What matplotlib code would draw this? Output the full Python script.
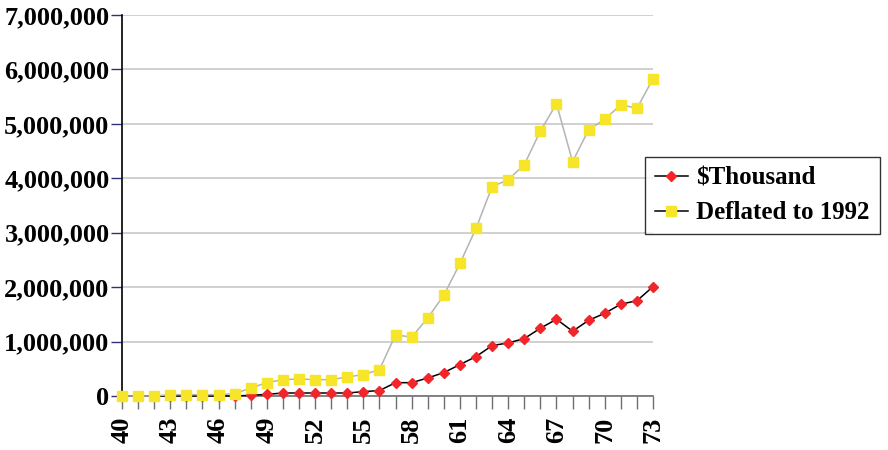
import matplotlib
matplotlib.use("Agg")
from matplotlib import pyplot as plt
from matplotlib.lines import Line2D
from matplotlib.ticker import FuncFormatter
import numpy as np

years = list(range(40, 74))
thousand = [0, 0, 0, 0, 0, 0, 0, 0, 12000, 30000, 55000, 55000, 55000, 55000,
            55000, 80000, 100000, 245000, 245000, 331000, 430000, 577000,
            724000, 926000, 975000, 1055000, 1245000, 1410000, 1190000,
            1390000, 1520000, 1687000, 1750000, 2010000]
deflated = [0, 0, 0, 25000, 25000, 25000, 25000, 43000, 147000, 245000,
            300000, 313000, 300000, 300000, 350000, 393000, 485000, 1125000,
            1080000, 1435000, 1850000, 2435000, 3080000, 3846000, 3974000,
            4250000, 4868000, 5370000, 4305000, 4893000, 5083000, 5352000,
            5285000, 5830000]
tick_years = list(range(40, 74, 3))

red = "#f0262a"
yellow = "#f7e52a"
family = "Liberation Serif"

fig = plt.figure(figsize=(8.88, 4.5), dpi=100)
ax = fig.add_axes([0.1374, 0.12, 0.598, 0.8467])

ax.plot(years, thousand, color="black", lw=1.1, marker="D", ms=5,
        mfc=red, mec=red, clip_on=False, zorder=3)
ax.plot(years, deflated, color="#b4b4b4", lw=1.1, marker="s", ms=7.5,
        mfc=yellow, mec=yellow, clip_on=False, zorder=4)

ax.set_xlim(40, 73)
ax.set_ylim(0, 7000000)
ax.set_yticks(np.arange(0, 7000001, 1000000))
ax.yaxis.set_major_formatter(FuncFormatter(lambda v, p: f"{int(v):,}"))
ax.set_xticks(years)
ax.set_xticklabels([str(y) if y in tick_years else "" for y in years],
                   rotation=90)
ax.grid(axis="y", color="#c4c4c4", lw=1.1)
ax.set_axisbelow(True)

for s in ["top", "right"]:
    ax.spines[s].set_visible(False)
ax.spines["left"].set_color("black")
ax.spines["left"].set_linewidth(1.2)
ax.spines["bottom"].set_color("#707070")
ax.spines["bottom"].set_linewidth(1.2)

ax.tick_params(axis="y", length=8, width=1, color="#30307a", pad=1)
ax.tick_params(axis="x", length=9, width=1, color="#707070", pad=6)
for lab in ax.get_xticklabels() + ax.get_yticklabels():
    lab.set_fontfamily(family)
    lab.set_fontweight("bold")
    lab.set_fontsize(19)

handles = [
    Line2D([], [], color="black", lw=1.1, marker="D", ms=5, mfc=red, mec=red),
    Line2D([], [], color="black", lw=1.1, marker="s", ms=7, mfc=yellow,
           mec=yellow),
]
leg = fig.legend(handles, ["$Thousand", "Deflated to 1992"],
                 loc="upper left", bbox_to_anchor=(645 / 888, 1 - 157 / 450),
                 prop={"family": family, "weight": "bold", "size": 18},
                 frameon=True, fancybox=False, handlelength=1.3,
                 handletextpad=0.35, borderpad=0.4, labelspacing=0.45,
                 borderaxespad=0)
leg.get_frame().set_edgecolor("black")
leg.get_frame().set_linewidth(1.0)

fig.savefig("out.png", dpi=100)
